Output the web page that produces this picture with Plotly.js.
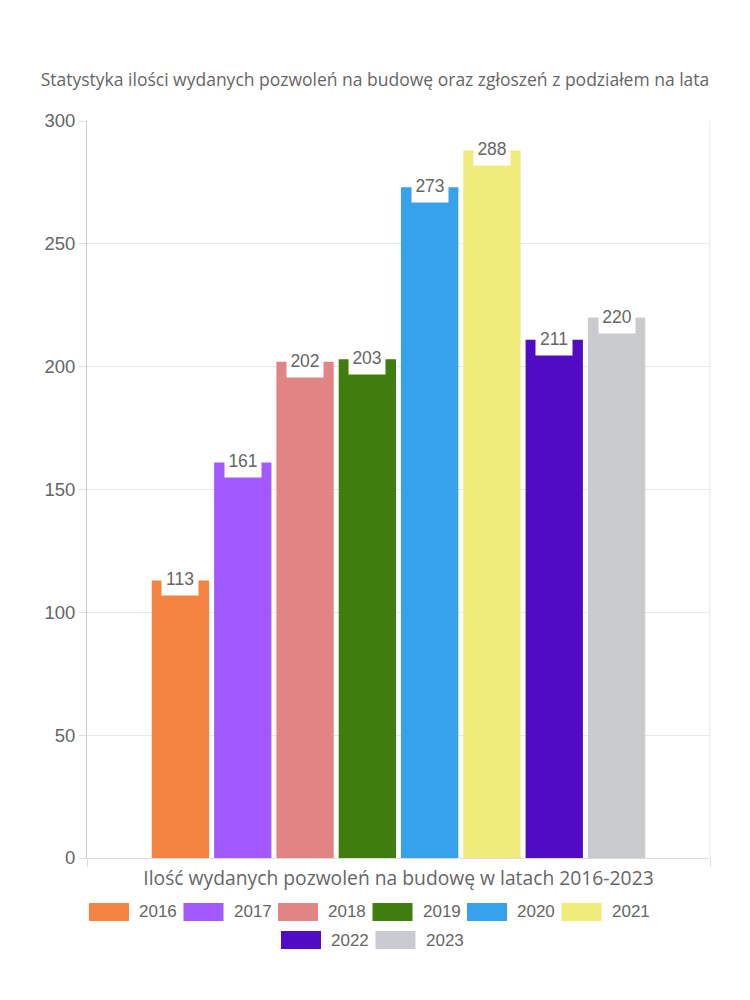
<!DOCTYPE html>
<html><head><meta charset="utf-8">
<script src="https://cdn.plot.ly/plotly-3.0.1.min.js"></script>
<style>html,body{margin:0;padding:0;background:#fff}#chart{width:750px;height:1000px}</style>
</head><body><div id="chart"></div>
<script>
const years = ['2016','2017','2018','2019','2020','2021','2022','2023'];
const values = [113, 161, 202, 203, 273, 288, 211, 220];
const colors = ['#F58442','#A259FF','#E08484','#3E7D0E','#36A2EB','#F0EC7C','#520BC4','#C9CBCF'];
const titleText = 'Statystyka ilości wydanych pozwoleń na budowę oraz zgłoszeń z podziałem na lata';
const xTitle = 'Ilość wydanych pozwoleń na budowę w latach 2016-2023';

const W = 750, H = 1000;
const bargap = 0.2, bargroupgap = 0.08;
const textFont = '"Open Sans", Lato, sans-serif';
const numFont = '"Liberation Sans", Arial, sans-serif';

const traces = years.map((yr, i) => ({
  type: 'bar', name: yr, x: [0], y: [values[i]],
  marker: {color: colors[i]}, hoverinfo: 'skip', showlegend: false
}));

const groupW = 1 - bargap, slot = groupW / years.length;
const annotations = values.map((v, i) => ({
  x: -groupW / 2 + slot * (i + 0.5), y: v, xref: 'x', yref: 'y',
  text: String(v), showarrow: false, yanchor: 'middle', yshift: 1,
  bgcolor: '#ffffff', borderpad: 3, width: 30, height: 26,
  font: {family: numFont, size: 17.5, color: '#666'}
}));

// custom legend (pixel layout converted to paper coords)
const shapes = [];
const rows = [years.slice(0, 6), years.slice(6)];
const itemW = 94.5, swW = 40, swH = 18;
const rowY = [912, 940];
rows.forEach((row, r) => {
  const total = row.length * itemW;
  let x0 = 89 + (6 * itemW - total) / 2 + (r === 1 ? 3 : 0);
  row.forEach((yr, j) => {
    const idx = years.indexOf(yr);
    const sx = x0 + j * itemW;
    shapes.push({type: 'rect', xref: 'paper', yref: 'paper', layer: 'above',
      x0: (sx - 87) / 623, x1: (sx + swW - 87) / 623,
      y0: (858 - (rowY[r] + swH / 2)) / 737, y1: (858 - (rowY[r] - swH / 2)) / 737,
      fillcolor: colors[idx], line: {width: 0}});
    annotations.push({xref: 'paper', yref: 'paper', x: (sx + swW + 8 - 87) / 623,
      y: (858 - rowY[r]) / 737, xanchor: 'left', yanchor: 'middle', showarrow: false,
      text: yr, font: {family: numFont, size: 17, color: '#666'}});
  });
});

const layout = {
  width: W, height: H,
  margin: {l: 87, r: 40, t: 121, b: 142},
  paper_bgcolor: '#fff', plot_bgcolor: '#fff',
  barmode: 'group', bargap: bargap, bargroupgap: bargroupgap,
  showlegend: false,
  title: {text: titleText, x: 0.5, xref: 'container', xanchor: 'center',
    y: 1 - 80 / H, yref: 'container', yanchor: 'middle',
    font: {family: textFont, size: 17.5, color: '#666'}},
  xaxis: {type: 'linear', range: [-0.5, 0.5], tickvals: [-0.5, 0.5], ticktext: ['', ''],
    ticks: 'outside', ticklen: 8, tickcolor: '#ddd', showgrid: false, zeroline: false,
    showline: true, linecolor: '#ddd', fixedrange: true,
    title: {text: xTitle, standoff: 3, font: {family: textFont, size: 19.3, color: '#666'}}},
  yaxis: {range: [0, 300], dtick: 50, ticks: 'outside', ticklen: 7, tickcolor: '#ddd',
    showline: true, linecolor: '#ccc', mirror: false, gridcolor: '#e8e8e8',
    zeroline: false, tickfont: {family: numFont, size: 18.5, color: '#666'}, fixedrange: true},
  shapes: shapes.concat([{type: 'line', xref: 'paper', yref: 'paper', x0: 1, x1: 1, y0: 0, y1: 1,
    line: {color: '#e8e8e8', width: 1}, layer: 'below'}]),
  annotations: annotations
};
Plotly.newPlot('chart', traces, layout, {displayModeBar: false, staticPlot: true});
</script></body></html>
